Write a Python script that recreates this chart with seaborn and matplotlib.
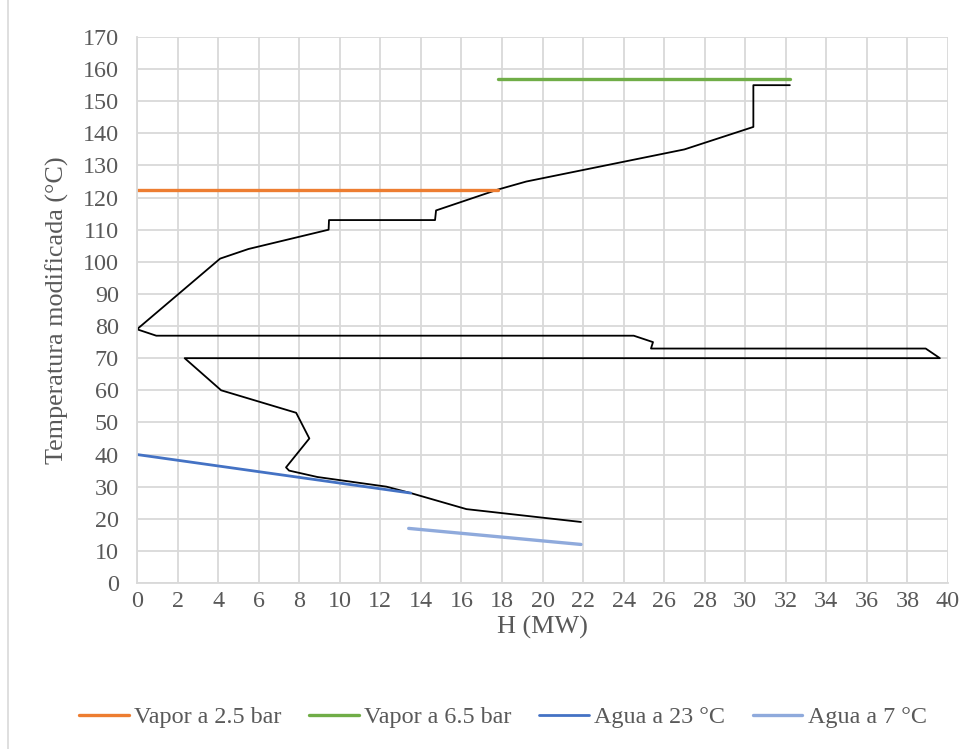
import matplotlib
matplotlib.use('Agg')
import matplotlib.pyplot as plt
import seaborn as sns
from matplotlib.lines import Line2D

# curva compuesta (negra)
gcc_h = [32.2, 30.4, 30.4, 27.0, 19.2, 17.8, 14.75, 14.7, 9.47, 9.45, 5.5, 4.1,
         0.0, 0.95, 24.5, 25.45, 25.35, 38.9, 39.6, 2.35, 4.15, 7.85, 8.5, 7.35,
         7.5, 8.9, 12.3, 13.5, 16.25, 21.9]
gcc_t = [155, 155, 142, 135, 125, 122.5, 116, 113, 113, 110, 104, 101,
         79, 77, 77, 75, 73, 73, 70, 70, 60, 53, 45, 36,
         35, 33, 30, 28, 23, 19]

vapor25_h = [0.0, 17.8]
vapor25_t = [122.5, 122.5]
vapor65_h = [17.8, 32.2]
vapor65_t = [157, 157]
agua23_h = [0.0, 13.5]
agua23_t = [40, 28]
agua7_h = [13.4, 21.9]
agua7_t = [17, 12]

x_ticks = list(range(0, 41, 2))
y_ticks = list(range(0, 171, 10))

sns.set_style('white')
plt.rcParams['font.family'] = ['Liberation Serif', 'DejaVu Serif']

fig = plt.figure(figsize=(9.77, 7.49), dpi=100)
ax = fig.add_axes([137 / 977, 1 - 583 / 749, (948 - 137) / 977, (583 - 37) / 749])

gris = '#595959'
fs = 17.4
sns.lineplot(x=gcc_h, y=gcc_t, sort=False, estimator=None, color='black', lw=1.3, ax=ax)
sns.lineplot(x=vapor25_h, y=vapor25_t, sort=False, estimator=None, color='#ED7D31', lw=2.4,
             ax=ax, label='Vapor a 2.5 bar')
sns.lineplot(x=vapor65_h, y=vapor65_t, sort=False, estimator=None, color='#70AD47', lw=2.4,
             ax=ax, label='Vapor a 6.5 bar')
sns.lineplot(x=agua23_h, y=agua23_t, sort=False, estimator=None, color='#4472C4', lw=2.0,
             ax=ax, label='Agua a 23 °C')
sns.lineplot(x=agua7_h, y=agua7_t, sort=False, estimator=None, color='#8FAADC', lw=2.4,
             ax=ax, label='Agua a 7 °C')

ax.set_xlim(0, 40)
ax.set_ylim(0, 170)
ax.set_xticks(x_ticks)
ax.set_yticks(y_ticks)
ax.grid(True, color='#d9d9d9', lw=1.3)
ax.set_axisbelow(True)
for s in ['top', 'right']:
    ax.spines[s].set_visible(False)
for s in ['left', 'bottom']:
    ax.spines[s].set_color('#d9d9d9')
    ax.spines[s].set_linewidth(1.3)
ax.tick_params(axis='both', colors=gris, labelsize=fs, length=0)
ax.tick_params(axis='y', pad=13)
ax.tick_params(axis='x', pad=6)
ax.set_xlabel('H (MW)', fontsize=18.8, color=gris)
ax.set_ylabel('Temperatura modificada (°C)', fontsize=18.8, color=gris)
ax.xaxis.label.set_va('center')
ax.yaxis.label.set_va('center')
ax.xaxis.set_label_coords(0.5, -(627 - 583) / 546)
ax.yaxis.set_label_coords((57 - 137) / 811, (583 - 310) / 546)

leg = ax.legend(loc='center', bbox_to_anchor=(503 / 977, 1 - 717 / 749),
                bbox_transform=fig.transFigure, ncol=4, frameon=False,
                fontsize=fs, handlelength=2.05, columnspacing=1.15, handletextpad=0.22)
for t in leg.get_texts():
    t.set_color(gris)

# borde del área del gráfico
fig.lines.append(Line2D([8 / 977, 8 / 977], [0, 1], transform=fig.transFigure,
                        color='#d9d9d9', lw=1.2))

fig.savefig('out.png', dpi=100)
